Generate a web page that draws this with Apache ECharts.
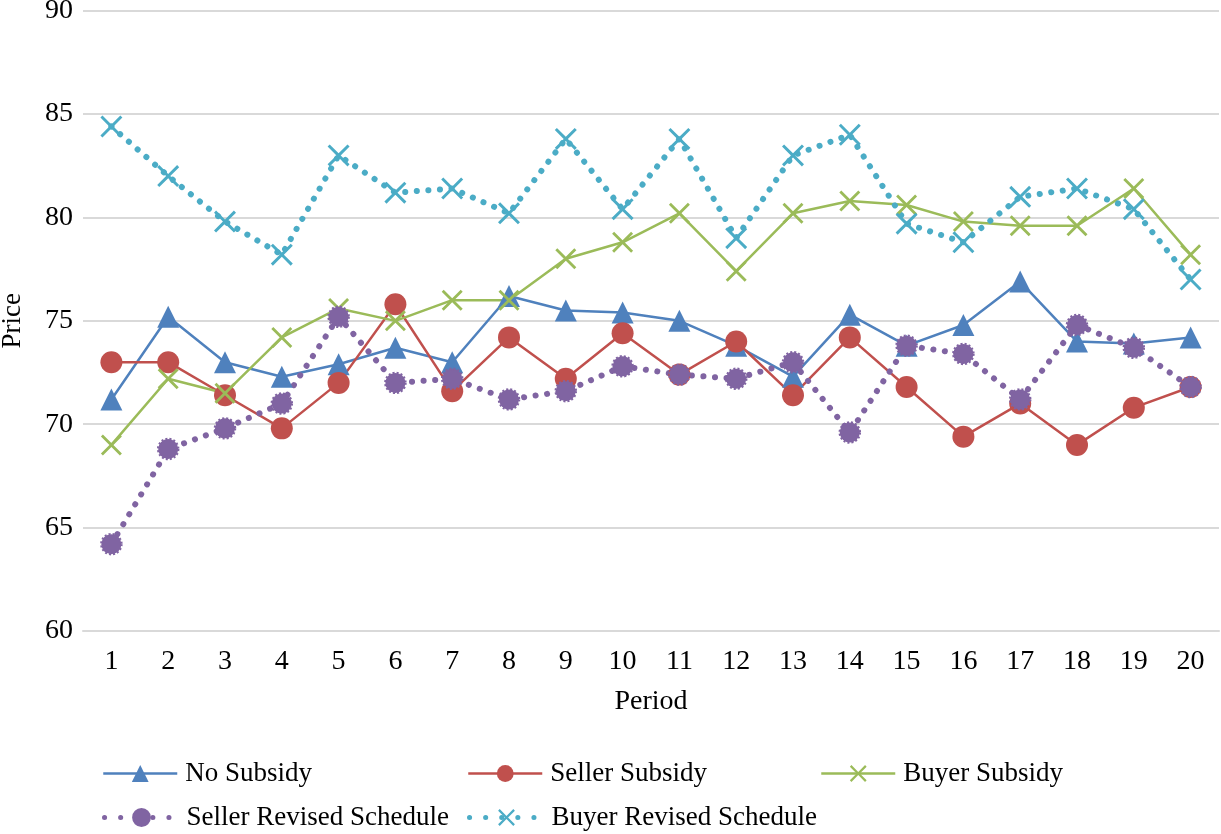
<!DOCTYPE html>
<html>
<head>
<meta charset="utf-8">
<script src="https://cdn.jsdelivr.net/npm/echarts@6/dist/echarts.min.js"></script>
<style>
html,body{margin:0;padding:0;background:#fff;}
#chart{width:1221px;height:834px;}
</style>
</head>
<body>
<div id="chart"></div>
<script>
const periods = ['1','2','3','4','5','6','7','8','9','10','11','12','13','14','15','16','17','18','19','20'];
const noSubsidy = [71.2,75.2,73.0,72.3,72.9,73.7,73.0,76.2,75.5,75.4,75.0,73.8,72.3,75.3,73.8,74.8,76.9,74.0,73.9,74.2];
const sellerSubsidy = [73.0,73.0,71.4,69.8,72.0,75.8,71.6,74.2,72.2,74.4,72.4,74.0,71.4,74.2,71.8,69.4,71.0,69.0,70.8,71.8];
const buyerSubsidy = [69.0,72.2,71.5,74.2,75.6,75.0,76.0,76.0,78.0,78.8,80.2,77.4,80.2,80.8,80.6,79.8,79.6,79.6,81.4,78.2];
const sellerRevised = [64.2,68.8,69.8,71.0,75.2,72.0,72.2,71.2,71.6,72.8,72.4,72.2,73.0,69.6,73.8,73.4,71.2,74.8,73.7,71.8];
const buyerRevised = [84.4,82.0,79.8,78.2,83.0,81.2,81.4,80.2,83.8,80.4,83.8,79.0,83.0,84.0,79.7,78.8,81.0,81.4,80.4,77.0];
const yTicks = {min:60, max:90, interval:5};

const FONT = '"Liberation Serif", "DejaVu Serif", serif';
const X_PATH = 'path://M0,1.9 L1.9,0 L10,8.1 L18.1,0 L20,1.9 L11.9,10 L20,18.1 L18.1,20 L10,11.9 L1.9,20 L0,18.1 L8.1,10 Z';
const dotted = [0.1, 11.5];

const chart = echarts.init(document.getElementById('chart'), null, {renderer:'canvas'});

function legendAt(name, left, top, dottedLine){
  const l = {
    data:[name], left:left, top:top, orient:'horizontal',
    itemWidth:74, itemHeight:21, padding:0, selectedMode:false,
    textStyle:{fontFamily:FONT, fontSize:27, color:'#000', padding:[0,0,0,3]}
  };
  if (dottedLine) l.lineStyle = {width:5, type:[0.1,16], cap:'round'};
  else l.lineStyle = {width:2.5};
  return l;
}

const option = {
  animation:false,
  backgroundColor:'#fff',
  grid:{left:83, right:2, top:10.7, bottom:203, containLabel:false, outerBoundsMode:'none'},
  legend:[
    legendAt('No Subsidy', 102, 760, false),
    legendAt('Seller Subsidy', 467, 760, false),
    legendAt('Buyer Subsidy', 820, 760, false),
    legendAt('Seller Revised Schedule', 102, 804, true),
    legendAt('Buyer Revised Schedule', 467, 804, true)
  ],
  xAxis:{
    type:'category', data:periods, boundaryGap:true,
    name:'Period', nameLocation:'middle', nameGap:57,
    nameTextStyle:{fontFamily:FONT, fontSize:28, color:'#000'},
    axisLine:{show:true, lineStyle:{color:'#d9d9d9', width:2}},
    axisTick:{show:false},
    axisLabel:{fontFamily:FONT, fontSize:28, color:'#000', margin:17}
  },
  yAxis:{
    type:'value', min:yTicks.min, max:yTicks.max, interval:yTicks.interval,
    name:'Price', nameLocation:'middle', nameGap:57,
    nameTextStyle:{fontFamily:FONT, fontSize:27, color:'#000'},
    axisLine:{show:false}, axisTick:{show:false},
    axisLabel:{fontFamily:FONT, fontSize:28, color:'#000', margin:10},
    splitLine:{lineStyle:{color:'#d9d9d9', width:2}}
  },
  series:[
    {name:'No Subsidy', type:'line', data:noSubsidy, symbol:'triangle', symbolSize:22,
     itemStyle:{color:'#4f81bd'}, lineStyle:{color:'#4f81bd', width:2.5}},
    {name:'Seller Subsidy', type:'line', data:sellerSubsidy, symbol:'circle', symbolSize:22,
     itemStyle:{color:'#c0504d'}, lineStyle:{color:'#c0504d', width:2.5}},
    {name:'Buyer Subsidy', type:'line', data:buyerSubsidy, symbol:X_PATH, symbolSize:21,
     itemStyle:{color:'#9bbb59'}, lineStyle:{color:'#9bbb59', width:2.5}},
    {name:'Seller Revised Schedule', type:'line', data:sellerRevised, symbol:'circle', symbolSize:20,
     itemStyle:{color:'#8064a2', borderColor:'#8064a2', borderWidth:2.5, borderType:[2,2]},
     lineStyle:{color:'#8064a2', width:6, type:dotted, cap:'round'}},
    {name:'Buyer Revised Schedule', type:'line', data:buyerRevised, symbol:X_PATH, symbolSize:22,
     itemStyle:{color:'#4bacc6'}, lineStyle:{color:'#4bacc6', width:6, type:dotted, cap:'round'}}
  ]
};
chart.setOption(option);
</script>
</body>
</html>
